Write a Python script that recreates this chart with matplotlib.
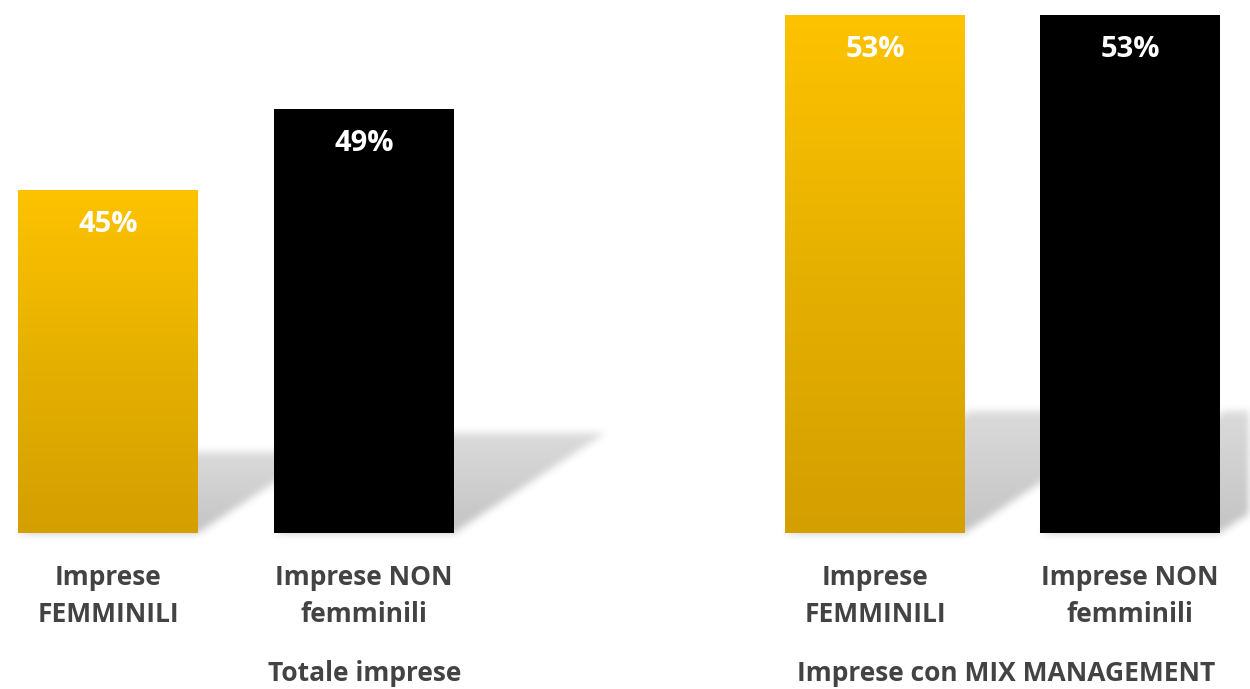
import numpy as np
import matplotlib
matplotlib.use('Agg')
import matplotlib.pyplot as plt
from matplotlib.colors import LinearSegmentedColormap

# Quote per gruppo di imprese
groups = ['Totale imprese', 'Imprese con MIX MANAGEMENT']
categories = ['Imprese\nFEMMINILI', 'Imprese NON\nfemminili']
totale = [45, 49]
mix_management = [53, 53]

plt.rcParams['font.family'] = ['Open Sans', 'DejaVu Sans']

gold = LinearSegmentedColormap.from_list('gold', ['#d49f00', '#e6b000', '#fdc300'])
label_color = '#434343'

fig = plt.figure(figsize=(12.5, 6.89), dpi=100)
W, H = 1250, 689
base_frac = 156 / H

# una serie di assi per ciascun gruppo, con scala propria
ax_left = fig.add_axes([0, base_frac, 620 / W, 1 - base_frac])
ax_right = fig.add_axes([640 / W, base_frac, 610 / W, 1 - base_frac])

panels = [
    (ax_left, totale, groups[0], (-108 / 256, 512 / 256), (28, 54.4), 0.589),
    (ax_right, mix_management, groups[1], (-235 / 255, 375 / 255), (28, 53.7), 0.60),
]

width = 0.703
bar_boxes = []

for ax, values, title, xlim, ylim, title_x in panels:
    x = np.arange(len(values))
    bars = ax.bar(x, values, width=width, color=['#e6b000', 'black'], zorder=3)
    ax.set_xlim(*xlim)
    ax.set_ylim(*ylim)

    # sfumatura verticale sulla barra dorata
    g = bars[0]
    grad = np.linspace(0, 1, 256).reshape(-1, 1)
    im = ax.imshow(grad, extent=(g.get_x(), g.get_x() + width, ylim[0], values[0]),
                   origin='lower', aspect='auto', cmap=gold, zorder=4)
    im.set_clip_path(g)
    ax.set_xlim(*xlim)
    ax.set_ylim(*ylim)

    for xi, v in zip(x, values):
        ax.annotate(f'{v}%', (xi, v), xytext=(0, -25), textcoords='offset points',
                    ha='center', va='center', color='white', fontsize=21,
                    fontweight='bold', zorder=6)
        # posizione della barra in pixel per l'ombra
        x0, y0 = ax.transData.transform((xi - width / 2, ylim[0]))
        x1, y1 = ax.transData.transform((xi + width / 2, v))
        bar_boxes.append((x0, x1, y0, y1))

    for xi, cat in zip(x, categories):
        ax.text(xi, -0.118, cat, transform=ax.get_xaxis_transform(), ha='center',
                va='center', fontsize=19, fontweight='bold', color=label_color,
                linespacing=1.45)
    ax.text(title_x, -0.263, title, transform=ax.transAxes, ha='center', va='center',
            fontsize=19, fontweight='bold', color=label_color)

    ax.set_facecolor('none')
    ax.axis('off')

# ombre prospettiche verso destra, sfocate
yy, xx = np.mgrid[0:H, 0:W] + 0.5
alpha = np.zeros((H, W))
for x0, x1, y0, y1 in bar_boxes:
    h = y1 - y0
    sh = 0.235 * h
    dx = 0.355 * h
    s = (yy - y0) / sh
    inside = (s >= 0) & (s <= 1) & (xx >= x0 + s * dx) & (xx <= x1 + s * dx)
    alpha = np.maximum(alpha, inside * (0.52 - 0.2 * np.clip(s, 0, 1)))


def box_blur(a, r):
    k = np.ones(2 * r + 1) / (2 * r + 1)
    a = np.apply_along_axis(lambda m: np.convolve(m, k, mode='same'), 0, a)
    a = np.apply_along_axis(lambda m: np.convolve(m, k, mode='same'), 1, a)
    return a


alpha = box_blur(box_blur(alpha, 4), 4)
shadow = np.zeros((H, W, 4))
shadow[..., :3] = 0.55
shadow[..., 3] = alpha
fig.figimage(shadow, xo=0, yo=0, origin='lower', zorder=-1)

fig.savefig('out.png', dpi=100, facecolor='white')
